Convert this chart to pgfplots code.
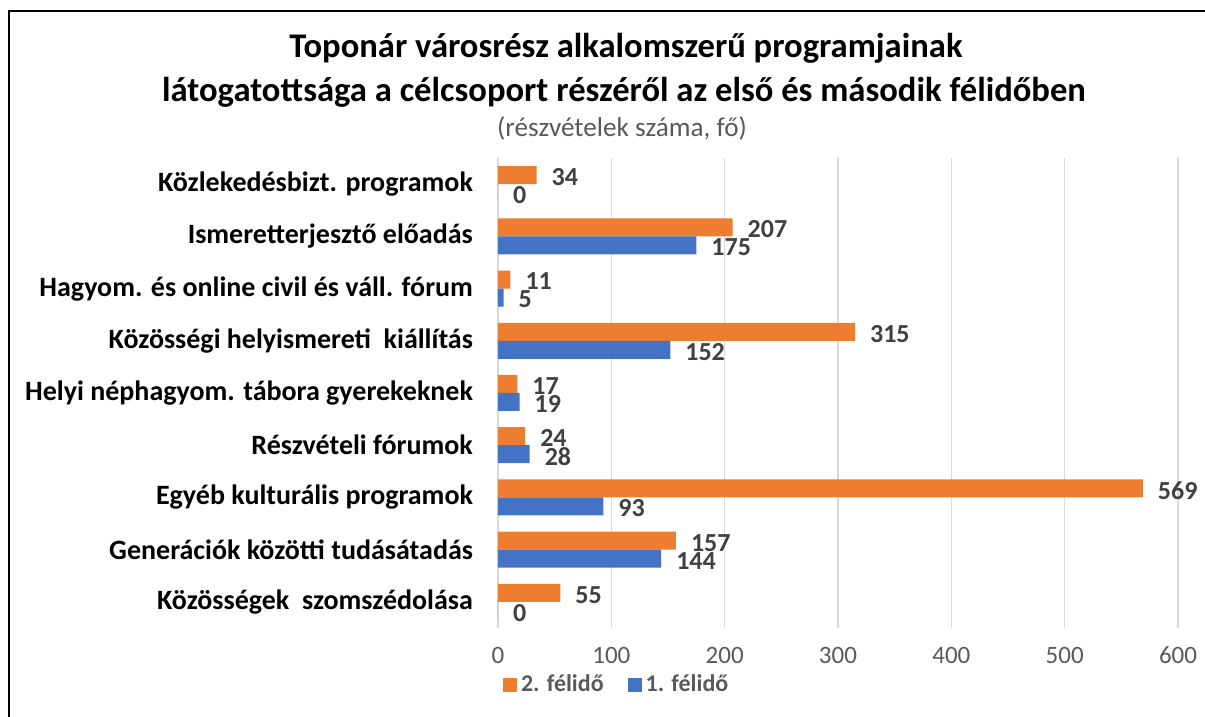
\documentclass[border=0pt]{standalone}
\usepackage{pgfplots}
\pgfplotsset{compat=1.18}
\usepackage{fontspec}
\setmainfont{Carlito}
\definecolor{cOrange}{HTML}{ED7D31}
\definecolor{cBlue}{HTML}{4472C4}
\definecolor{cGrid}{HTML}{D9D9D9}
\definecolor{cTick}{HTML}{595959}
\definecolor{cLab}{HTML}{404040}
\begin{document}
\begin{tikzpicture}
\path[use as bounding box] (0,0) rectangle (602.5pt,358.5pt);
\draw[line width=1.1pt] (4.5pt,0) -- (4.5pt,353pt) -- (602.5pt,353pt);
\node[anchor=base, font=\fontsize{17.3}{20}\selectfont\bfseries] at (313pt,329.5pt) {Toponár városrész alkalomszerű programjainak};
\node[anchor=base, font=\fontsize{17.3}{20}\selectfont\bfseries] at (312pt,307.5pt) {látogatottsága a célcsoport részéről az első és második félidőben};
\node[anchor=base, font=\fontsize{13.6}{16}\selectfont, text=cTick] at (311pt,290pt) {(részvételek száma, fő)};
\begin{axis}[
  at={(249pt,44.5pt)}, anchor=south west,
  scale only axis, width=340pt, height=235pt,
  xbar, bar width=9pt,
  xmin=0, xmax=600, ymin=-0.5, ymax=8.5,
  xtick={0,100,...,600},
  ytick={0,...,8},
  yticklabels={Közösségek~~szomszédolása\ ,Generációk közötti tudásátadás,Egyéb kulturális programok\ ,Részvételi fórumok,Helyi néphagyom. tábora gyerekeknek,Közösségi helyismereti~~kiállítás\ ,Hagyom. és online civil és váll. fórum,Ismeretterjesztő előadás\ ,Közlekedésbizt. programok},
  axis line style={draw=none},
  xmajorgrids, grid style={cGrid, line width=0.8pt},
  major tick length=0pt,
  /pgf/number format/assume math mode=true,
  xticklabel style={font=\fontsize{12.5}{15}\selectfont, text=cTick, yshift=-6pt},
  yticklabel style={font=\fontsize{14}{16}\selectfont\bfseries, anchor=east, xshift=-9pt},
  clip=false,
  point meta=x,
  nodes near coords,
  nodes near coords style={font=\fontsize{13}{15}\selectfont\bfseries, text=cLab, anchor=west, xshift=4pt, yshift=-1pt},
  legend style={at={(0.176,-0.121)}, anchor=center, draw=none, fill=none, legend columns=2,
    font=\fontsize{12}{14}\selectfont\bfseries, text=cTick,
    /tikz/every even column/.append style={column sep=10pt}},
  legend image code/.code={\fill[#1] (0pt,-3.5pt) rectangle (7pt,3.5pt);},
]
\addplot[fill=cOrange, draw=none, bar shift=4.5pt] coordinates {
 (55,0) (157,1) (569,2) (24,3) (17,4) (315,5) (11,6) (207,7) (34,8)};
\addplot[fill=cBlue, draw=none, bar shift=-4.5pt] coordinates {
 (0,0) (144,1) (93,2) (28,3) (19,4) (152,5) (5,6) (175,7) (0,8)};
\legend{2. félidő, 1. félidő}
\end{axis}
\end{tikzpicture}
\end{document}
